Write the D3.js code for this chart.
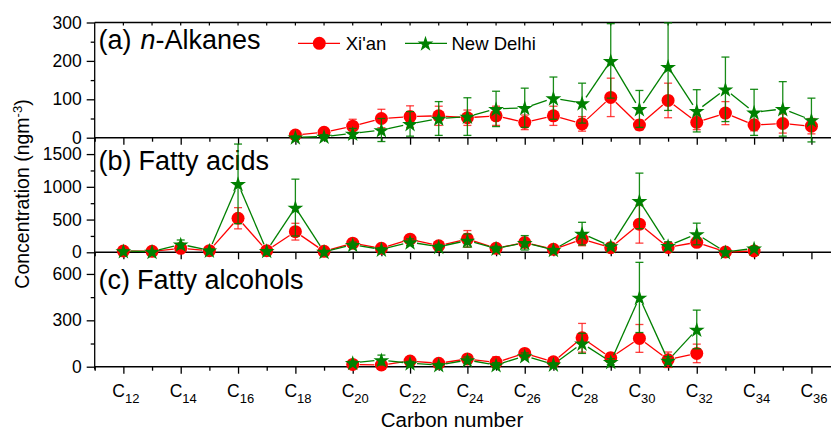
<!DOCTYPE html>
<html><head><meta charset="utf-8">
<script src="https://cdn.jsdelivr.net/npm/d3@7"></script>
<style>
body{margin:0;background:#fff}
svg{display:block}
text{font-family:"Liberation Sans",Arial,Helvetica,sans-serif;fill:#000}
</style>
</head><body><svg id="c" width="831" height="432"></svg>
<script>
// ---- data ----
const seriesNames = ["Xi'an", "New Delhi"];

const alkCarbons = d3.range(18, 37);
const alkXian     = [7,14,30,50,55,57,52,57,40,57,36,105,33,97,40,64,33,37,30];
const alkXianErr  = [4,6,18,24,28,25,20,25,19,25,19,50,13,45,19,30,15,25,20];
const alkDelhi    = [1,3,11,20,36,50,55,75,78,103,90,200,75,185,70,126,66,75,46];
const alkDelhiErr = [3,5,13,30,32,44,49,46,51,55,52,97,48,114,55,84,60,71,57];

const faCarbons = d3.range(12, 35);
const faXian     = [20,15,61,25,520,25,315,15,140,60,200,100,205,60,150,45,200,70,430,75,153,5,20];
const faXianErr  = [15,10,40,15,162,15,128,10,40,30,60,40,127,25,60,20,100,30,290,40,60,20,15];
const faDelhi    = [20,10,122,30,1045,25,683,10,115,45,155,85,180,60,145,40,285,95,785,100,280,5,60];
const faDelhiErr = [15,10,66,20,608,15,434,10,40,25,50,35,100,30,110,20,173,40,424,60,165,15,30];

const alcCarbons = d3.range(20, 33);
const alcXian     = [15,11,37,22,50,28,86,32,187,58,183,45,86];
const alcXianErr  = [10,10,15,10,20,36,25,15,93,30,90,50,60];
const alcDelhi    = [26,43,22,11,43,11,69,15,151,32,448,40,241];
const alcDelhiErr = [10,32,12,10,20,15,20,10,65,20,227,25,125];

const aTicks = [0,100,200,300], aMinor = [50,150,250];
const bTicks = [0,500,1000,1500], bMinor = [250,750,1250];
const cTicks = [0,300,600], cMinor = [150,450];
const xLabelCarbons = d3.range(12, 37, 2);

// ---- layout ----
const RED = "#ff0000", GREEN = "#008000";
const svg = d3.select("#c");
const x = d3.scaleLinear().domain([11, 37]).range([94.7, 840.1]);
const xMajor = d3.range(12, 38, 2), xMinor = d3.range(11, 38, 2);

const panels = [
  {tag:"(a)", name:"n-Alkanes", italic:true, carbons:alkCarbons,
   s:[[alkXian,alkXianErr],[alkDelhi,alkDelhiErr]], domain:[0,300], range:[137.7,22.5],
   ticks:aTicks, minor:aMinor, labelY:48.5},
  {tag:"(b)", name:"Fatty acids", carbons:faCarbons,
   s:[[faXian,faXianErr],[faDelhi,faDelhiErr]], domain:[0,1750], range:[252.3,137.7],
   ticks:bTicks, minor:bMinor, labelY:170},
  {tag:"(c)", name:"Fatty alcohols", carbons:alcCarbons,
   s:[[alcXian,alcXianErr],[alcDelhi,alcDelhiErr]], domain:[0,740], range:[366.7,252.3],
   ticks:cTicks, minor:cMinor, labelY:288.5}
];

// top border of panel (a)
svg.append("line").attr("x1", x(11)).attr("x2", 831).attr("y1", 22.5).attr("y2", 22.5)
  .attr("stroke","#000").attr("stroke-width",1.3);
svg.append("g").selectAll("line").data(d3.range(12,37)).join("line")
  .attr("x1", d=>x(d)).attr("x2", d=>x(d)).attr("y1",22.5).attr("y2",25.5)
  .attr("stroke","#000").attr("stroke-width",1.2);
// extend left axis slightly below bottom
svg.append("line").attr("x1", x(11)).attr("x2", x(11)).attr("y1", 22.5).attr("y2", 369.5)
  .attr("stroke","#000").attr("stroke-width",1.3);

function styleAxis(g){
  g.selectAll("path,line").attr("stroke","#000").attr("stroke-width",1.3);
  g.selectAll("text").attr("font-size","17.5px").attr("font-family",'"Liberation Sans",Arial,sans-serif').attr("fill","#000");
}

const starPath = d3.symbol(d3.symbolStar, 78)();
const R = 6.5;

panels.forEach(p => {
  const y = d3.scaleLinear().domain(p.domain).range(p.range);
  const y0 = p.range[0];
  // bottom axis
  const gx = svg.append("g").attr("transform", `translate(0,${y0})`);
  gx.call(d3.axisBottom(x).tickValues(xMajor).tickSize(7).tickSizeOuter(0).tickFormat(""));
  gx.select(".domain").remove();
  styleAxis(gx);
  const gx2 = svg.append("g").attr("transform", `translate(0,${y0})`);
  gx2.call(d3.axisBottom(x).tickValues(xMinor).tickSize(4).tickSizeOuter(0).tickFormat(""));
  gx2.select(".domain").remove();
  styleAxis(gx2);
  svg.append("line").attr("x1", x(11)).attr("x2", 831).attr("y1", y0).attr("y2", y0)
    .attr("stroke","#000").attr("stroke-width",1.6);
  // left axis
  const gy = svg.append("g").attr("transform", `translate(${x(11)},0)`);
  gy.call(d3.axisLeft(y).tickValues(p.ticks).tickSize(8).tickSizeOuter(0).tickPadding(5).tickFormat(d3.format("d")));
  gy.select(".domain").remove();
  styleAxis(gy);
  const gy2 = svg.append("g").attr("transform", `translate(${x(11)},0)`);
  gy2.call(d3.axisLeft(y).tickValues(p.minor).tickSize(4).tickSizeOuter(0).tickFormat(""));
  gy2.select(".domain").remove();
  styleAxis(gy2);

  // panel label
  const t = svg.append("text").attr("x", 98.5).attr("y", p.labelY).attr("font-size","27px");
  t.append("tspan").text(p.tag);
  if (p.italic) {
    t.append("tspan").attr("dx", 9).attr("font-style","italic").text("n");
    t.append("tspan").text("-Alkanes");
  } else {
    t.append("tspan").attr("dx", 7).text(p.name);
  }

  // series
  p.s.forEach((ser, si) => {
    const [vals, errs] = ser;
    const col = si === 0 ? RED : GREEN;
    const pts = p.carbons.map((c,i)=>({c, v:vals[i], e:errs[i], px:x(c), py:y(vals[i])}));
    const g = svg.append("g");
    const gap = R + 0.5;
    const segs = [];
    for (let i=0;i<pts.length-1;i++){
      const a=pts[i], b=pts[i+1];
      const dx=b.px-a.px, dy=b.py-a.py, L=Math.hypot(dx,dy);
      if (L>2*gap) segs.push({x1:a.px+dx/L*gap, y1:a.py+dy/L*gap, x2:b.px-dx/L*gap, y2:b.py-dy/L*gap});
    }
    g.selectAll("line.seg").data(segs).join("line").attr("class","seg")
      .attr("x1",d=>d.x1).attr("y1",d=>d.y1).attr("x2",d=>d.x2).attr("y2",d=>d.y2)
      .attr("stroke",col).attr("stroke-width",1.3);
    const eg = g.append("g").attr("stroke", col).attr("stroke-width",1.3)
      .attr("stroke-opacity", si===0?0.75:0.9);
    pts.forEach(d=>{
      const yt=y(d.v+d.e), yb=y(d.v-d.e);
      eg.append("line").attr("x1",d.px).attr("x2",d.px).attr("y1",yt).attr("y2",yb);
      eg.append("line").attr("x1",d.px-4).attr("x2",d.px+4).attr("y1",yt).attr("y2",yt);
      eg.append("line").attr("x1",d.px-4).attr("x2",d.px+4).attr("y1",yb).attr("y2",yb);
    });
    if (si===0){
      g.selectAll("circle").data(pts).join("circle").attr("cx",d=>d.px).attr("cy",d=>d.py)
        .attr("r",R).attr("fill",RED);
    } else {
      g.selectAll("path.star").data(pts).join("path").attr("class","star").attr("d",starPath)
        .attr("transform",d=>`translate(${d.px},${d.py+0.8})`).attr("fill",GREEN);
    }
  });
});

// x tick labels (C with subscript)
const xl = svg.append("g");
xLabelCarbons.forEach(c=>{
  const t = xl.append("text").attr("x", x(c)-11).attr("y", 397).attr("font-size","17.5px");
  t.append("tspan").text("C");
  t.append("tspan").attr("font-size","13px").attr("dy",6).text(c);
});

// axis titles
svg.append("text").attr("x", 452).attr("y", 427).attr("text-anchor","middle")
  .attr("font-size","20.5px").text("Carbon number");
const yt = svg.append("text").attr("transform","translate(29,194) rotate(-90)")
  .attr("text-anchor","middle").attr("font-size","19.5px");
yt.append("tspan").text("Concentration (ngm");
yt.append("tspan").attr("font-size","13px").attr("dy",-7).text("-3");
yt.append("tspan").attr("dy",7).text(")");

// legend
const lg = svg.append("g");
const legendItems = [{name:seriesNames[0], col:RED, x0:298, x1:340, cx:319.3, tx:345.7},
                     {name:seriesNames[1], col:GREEN, x0:405, x1:447, cx:425.5, tx:451.5}];
legendItems.forEach((it,i)=>{
  lg.append("line").attr("x1",it.x0).attr("x2",it.x1).attr("y1",43.3).attr("y2",43.3)
    .attr("stroke",it.col).attr("stroke-width",1.3);
  if (i===0) lg.append("circle").attr("cx",it.cx).attr("cy",43.3).attr("r",R).attr("fill",RED);
  else lg.append("path").attr("d",starPath).attr("transform",`translate(${it.cx},44)`).attr("fill",GREEN);
  lg.append("text").attr("x",it.tx).attr("y",50).attr("font-size","18.5px").text(it.name);
});
</script>
</body></html>
